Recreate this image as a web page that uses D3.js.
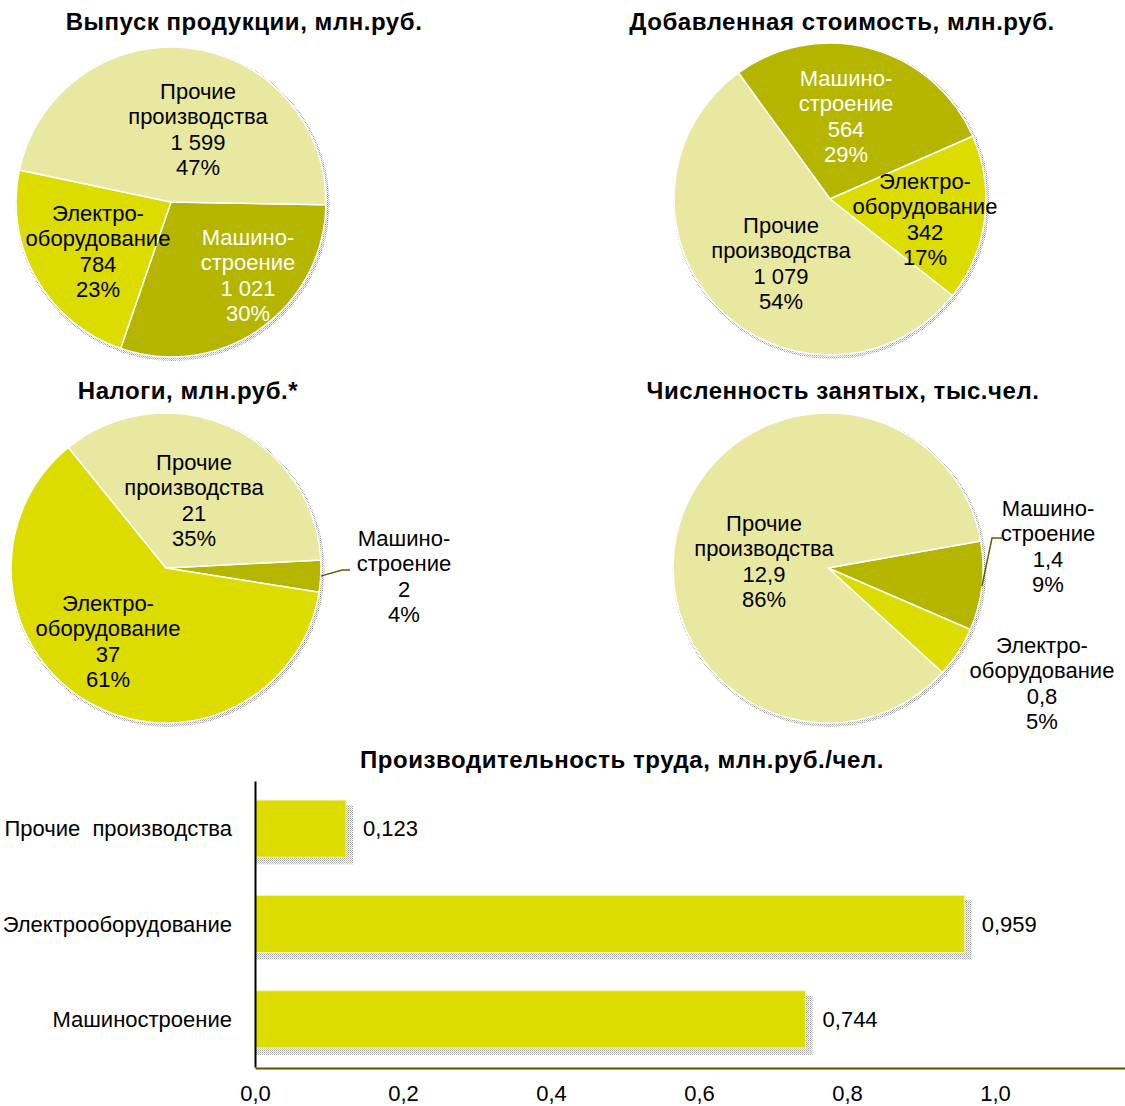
<!DOCTYPE html>
<html><head><meta charset="utf-8">
<script src="https://cdn.jsdelivr.net/npm/d3@7"></script>
<style>
html,body{margin:0;padding:0;background:#fff;}
svg{display:block;font-family:"Liberation Sans",Arial,sans-serif;}
</style></head>
<body>
<svg id="chart" width="1125" height="1106"></svg>
<script>
// ---------- DATA ----------
const sliceNames = [["Машино-","строение"],["Электро-","оборудование"],["Прочие","производства"]];
const outputVals = [1021, 784, 1599];
const outputPct  = [30, 23, 47];
const addedVals  = [564, 342, 1079];
const addedPct   = [29, 17, 54];
const taxVals    = [2, 37, 21];
const taxPct     = [4, 61, 35];
const emplVals   = [1.4, 0.8, 12.9];
const emplPct    = [9, 5, 86];
const pieTitles  = ["Выпуск продукции, млн.руб.","Добавленная стоимость, млн.руб.","Налоги, млн.руб.*","Численность занятых, тыс.чел."];
const barTitle   = "Производительность труда, млн.руб./чел.";
const barCats    = ["Прочие  производства","Электрооборудование","Машиностроение"];
const barVals    = [0.123, 0.959, 0.744];
const xTicks     = [0, 0.2, 0.4, 0.6, 0.8, 1.0];

// ---------- STYLE / LAYOUT ----------
const colors = ["#B5B500","#DCDC00","#E8E8A0"];
const ru = d3.formatLocale({decimal:",", thousands:"\u00a0", grouping:[3], currency:["",""]});
const fInt = ru.format(",.0f"), f1 = ru.format(",.1f"), f3 = ru.format(",.3f");
const FS = 22, LH = 25.5, TFS = 24, TLS = 0.55;

const svg = d3.select("#chart");
const defs = svg.append("defs");
const pat = defs.append("pattern").attr("id","dither").attr("width",2).attr("height",2).attr("patternUnits","userSpaceOnUse");
pat.append("rect").attr("x",0).attr("y",0).attr("width",1).attr("height",1).attr("fill","#a0a0a0");
pat.append("rect").attr("x",1).attr("y",1).attr("width",1).attr("height",1).attr("fill","#c4c4c4");

const pies = [
  {title:pieTitles[0], tx:244, ty:22, vals:outputVals, pct:outputPct, fmt:fInt, cx:171, cy:202, r:155, start:91,
   labels:[[248,237,"#fff"],[98,213,"#000"],[198,91,"#000"]], leaders:[null,null,null]},
  {title:pieTitles[1], tx:842, ty:22, vals:addedVals, pct:addedPct, fmt:fInt, cx:830, cy:199, r:156, start:-36,
   labels:[[846,78,"#fff"],[925,181,"#000"],[781,225,"#000"]], leaders:[null,null,null]},
  {title:pieTitles[2], tx:188, ty:391, vals:taxVals, pct:taxPct, fmt:fInt, cx:166, cy:568, r:155, start:87,
   labels:[[404,538,"#000"],[108,603,"#000"],[194,462,"#000"]], leaders:[[[342,570],[350,570]],null,null]},
  {title:pieTitles[3], tx:843, ty:391, vals:emplVals, pct:emplPct, fmt:f1, cx:828, cy:568, r:155, start:80,
   labels:[[1048,508,"#000"],[1042,645,"#000"],[764,523,"#000"]], leaders:[[[992,538],[1003,538]],null,null]}
];

const arc = d3.arc().innerRadius(0);
pies.forEach(p => {
  svg.append("text").attr("x",p.tx).attr("y",p.ty).attr("dy","0.35em")
    .attr("text-anchor","middle").attr("font-size",TFS).attr("font-weight","bold")
    .attr("letter-spacing",TLS).text(p.title);
  const g = svg.append("g").attr("transform",`translate(${p.cx},${p.cy})`);
  g.append("circle").attr("cx",1.5).attr("cy",2).attr("r",p.r+2).attr("fill","url(#dither)");
  const s0 = p.start*Math.PI/180;
  const arcs = d3.pie().sort(null).value(d=>d).startAngle(s0).endAngle(s0+2*Math.PI)(p.vals);
  g.selectAll("path.slice").data(arcs).join("path").attr("class","slice")
    .attr("d", d => arc.outerRadius(p.r)(d))
    .attr("fill",(d,i)=>colors[i]).attr("stroke","#fff").attr("stroke-width",1.5).attr("stroke-linejoin","round");
  arcs.forEach((a,i) => {
    const lb = p.labels[i];
    const lines = [sliceNames[i][0], sliceNames[i][1], p.fmt(p.vals[i]), p.pct[i]+"%"];
    const t = svg.append("text").attr("text-anchor","middle").attr("font-size",FS).attr("fill",lb[2]);
    lines.forEach((l,k)=> t.append("tspan").attr("x",lb[0]).attr("y",lb[1]+k*LH).attr("dy","0.35em").text(l));
    if (p.leaders[i]) {
      const mid = (a.startAngle+a.endAngle)/2;
      const pts = [[p.cx+p.r*Math.sin(mid), p.cy-p.r*Math.cos(mid)], ...p.leaders[i]];
      svg.append("path").attr("d", d3.line()(pts)).attr("fill","none").attr("stroke","#5f5f00").attr("stroke-width",1.5);
    }
  });
});

// ---------- BAR CHART ----------
svg.append("text").attr("x",622).attr("y",760).attr("dy","0.35em").attr("text-anchor","middle")
  .attr("font-size",TFS).attr("font-weight","bold").attr("letter-spacing",TLS).text(barTitle);

const x = d3.scaleLinear().domain([0,1.2]).range([255,1143]);
const y = d3.scaleBand().domain(barCats).range([781,1067]).paddingInner(0.4).paddingOuter(0.2);

const bars = svg.append("g");
bars.selectAll("rect.sh").data(barVals).join("rect").attr("class","sh")
  .attr("x",x(0)+1).attr("y",(d,i)=>y(barCats[i])+5)
  .attr("width",d=>x(d)-x(0)+6).attr("height",y.bandwidth()+2).attr("fill","url(#dither)");
bars.selectAll("rect.bar").data(barVals).join("rect").attr("class","bar")
  .attr("x",x(0)).attr("y",(d,i)=>y(barCats[i]))
  .attr("width",d=>x(d)-x(0)).attr("height",y.bandwidth())
  .attr("fill","#DCDC00").attr("stroke","#f4f4b0").attr("stroke-width",1);
bars.selectAll("text.val").data(barVals).join("text").attr("class","val")
  .attr("x",d=>x(d)+17).attr("y",(d,i)=>y(barCats[i])+y.bandwidth()/2).attr("dy","0.35em")
  .attr("font-size",FS).text(d=>f3(d));

const xa = svg.append("g").attr("transform","translate(0,1068)")
  .call(d3.axisBottom(x).tickValues(xTicks).tickSize(0).tickFormat(d=>ru.format(",.1f")(d)));
xa.select(".domain").attr("stroke","#555500").attr("stroke-width",2);
xa.selectAll("text").attr("y",25).attr("dy","0.35em").attr("font-size",FS).attr("font-family","Liberation Sans, Arial, sans-serif").attr("fill","#000");

const ya = svg.append("g").attr("transform",`translate(${x(0)},0)`)
  .call(d3.axisLeft(y).tickSize(0).tickPadding(23));
ya.select(".domain").attr("stroke","#000").attr("stroke-width",2);
ya.selectAll("text").attr("font-size",FS).attr("font-family","Liberation Sans, Arial, sans-serif").attr("fill","#000").attr("dy","0.35em")
  .style("white-space","pre");
</script>
</body></html>
